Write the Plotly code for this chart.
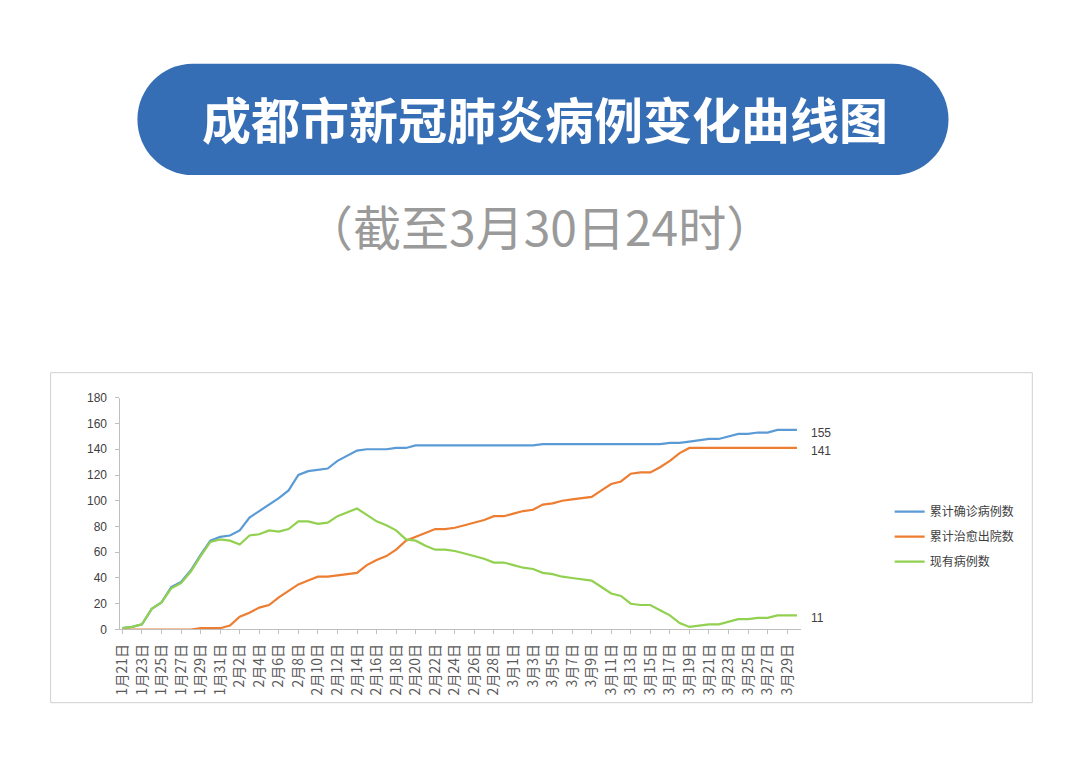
import plotly.graph_objects as go

W, H = 1080, 778

# ---- data ----
months = [1]*11 + [2]*29 + [3]*30
days = list(range(21, 32)) + list(range(1, 30)) + list(range(1, 31))
dates = [f"{m}月{d}日" for m, d in zip(months, days)]

confirmed = [1, 2, 4, 16, 21, 33, 37, 46, 58, 69, 72,
             73, 77, 87, 92, 97, 102, 108, 120, 123, 124, 125, 131, 135, 139, 140, 140, 140, 141, 141,
             143, 143, 143, 143, 143, 143, 143, 143, 143, 143,
             143, 143, 143, 144, 144, 144, 144, 144, 144, 144, 144, 144, 144, 144, 144, 144,
             145, 145, 146, 147, 148, 148, 150, 152, 152, 153, 153, 155, 155, 155]
recovered = [0, 0, 0, 0, 0, 0, 0, 0, 1, 1, 1,
             3, 10, 13, 17, 19, 25, 30, 35, 38, 41, 41, 42, 43, 44, 50, 54, 57, 62, 69,
             72, 75, 78, 78, 79, 81, 83, 85, 88, 88,
             90, 92, 93, 97, 98, 100, 101, 102, 103, 108, 113, 115, 121, 122, 122, 126,
             131, 137, 141, 141, 141, 141, 141, 141, 141, 141, 141, 141, 141, 141]
current = [1, 2, 4, 16, 21, 32, 36, 45, 57, 68, 70,
           69, 66, 73, 74, 77, 76, 78, 84, 84, 82, 83, 88, 91, 94, 89, 84, 81, 77, 70,
           69, 65, 62, 62, 61, 59, 57, 55, 52, 52,
           50, 48, 47, 44, 43, 41, 40, 39, 38, 33, 28, 26, 20, 19, 19, 15,
           11, 5, 2, 3, 4, 4, 6, 8, 8, 9, 9, 11, 11, 11]

series_names = ["累计确诊病例数", "累计治愈出院数", "现有病例数"]
series_colors = ["#5b9bd5", "#ed7d31", "#92d050"]
y_ticks = list(range(0, 181, 20))

title_text = "成都市新冠肺炎病例变化曲线图"
subtitle_text = "（截至3月30日24时）"

# ---- helpers: target screen pixel -> paper coordinate ----
SX, OX = 0.994, 14.3
SY, OY = 0.979, 16.4

def px(x):
    return ((x - OX) / SX) / W

def py(y):
    return 1 - ((y - OY) / SY) / H

x_idx = list(range(len(dates)))

fig = go.Figure()
for i, (name, vals, col) in enumerate(zip(series_names, [confirmed, recovered, current], series_colors)):
    fig.add_trace(go.Scatter(
        x=x_idx, y=vals, mode="lines", name=name,
        line=dict(color=col, width=2.2),
        legendgroup=f"g{i}",
        hoverinfo="x+y",
    ))

# end labels
for vals in [confirmed, recovered, current]:
    fig.add_annotation(x=x_idx[-1], y=vals[-1], text=str(vals[-1]),
                       showarrow=False, xanchor="left", xshift=12, yshift=-3,
                       font=dict(size=12, color="#404040", family="Liberation Sans, Arial"))

# title pill (rounded rectangle)
L, R, T, B = 135, 948, 65, 176
r = (B - T) / 2
k = 0.5523 * r
path = (f"M {px(L + r)},{py(T)} L {px(R - r)},{py(T)} "
        f"C {px(R - r + k)},{py(T)} {px(R)},{py(T + r - k)} {px(R)},{py(T + r)} "
        f"C {px(R)},{py(T + r + k)} {px(R - r + k)},{py(B)} {px(R - r)},{py(B)} "
        f"L {px(L + r)},{py(B)} "
        f"C {px(L + r - k)},{py(B)} {px(L)},{py(T + r + k)} {px(L)},{py(T + r)} "
        f"C {px(L)},{py(T + r - k)} {px(L + r - k)},{py(T)} {px(L + r)},{py(T)} Z")
fig.add_shape(type="path", path=path, xref="paper", yref="paper",
              fillcolor="#356eb5", line=dict(width=0), layer="below")

fig.add_annotation(x=px(544), y=py(119), xref="paper", yref="paper",
                   text=f"<b>{title_text}</b>", showarrow=False,
                   font=dict(size=49, color="white", family="Noto Sans CJK SC"),
                   xanchor="center", yanchor="middle")
fig.add_annotation(x=px(538), y=py(226), xref="paper", yref="paper",
                   text=subtitle_text, showarrow=False,
                   font=dict(size=48, color="#9a9a9a", family="Noto Sans CJK SC"),
                   xanchor="center", yanchor="middle")

# chart frame
fig.add_shape(type="rect", xref="paper", yref="paper",
              x0=px(48), x1=px(1032), y0=py(702), y1=py(373),
              line=dict(color="#d0d0d0", width=1), fillcolor="rgba(0,0,0,0)", layer="below")

xtick_font = dict(size=14, color="#595959", family="Noto Sans CJK SC")
ytick_font = dict(size=12, color="#404040", family="Liberation Sans, Arial")

fig.update_layout(
    width=W, height=H,
    margin=dict(l=0, r=0, t=0, b=0),
    paper_bgcolor="white", plot_bgcolor="white",
    showlegend=True,
    legend=dict(x=px(889), y=py(497), xanchor="left", yanchor="top",
                font=dict(size=12, color="#404040", family="Noto Sans CJK SC"),
                tracegroupgap=6, itemwidth=30, bgcolor="rgba(0,0,0,0)"),
    xaxis=dict(domain=[px(118), px(800)], range=[-0.2, 69.4],
               tickmode="array", tickvals=x_idx[::2], ticktext=dates[::2],
               tickangle=-90, tickfont=xtick_font,
               showgrid=False, zeroline=False,
               showline=True, linecolor="#bfbfbf", linewidth=1,
               ticks="outside", ticklen=4, tickcolor="#bfbfbf",
               ticklabelstandoff=4),
    yaxis=dict(domain=[py(629), py(398)], range=[0, 180],
               tickmode="array", tickvals=y_ticks,
               tickfont=ytick_font, showgrid=False, zeroline=False,
               showline=True, linecolor="#bfbfbf", linewidth=1,
               ticks="outside", ticklen=4, tickcolor="#bfbfbf",
               ticklabelstandoff=6),
)

fig.write_html("out.html")
